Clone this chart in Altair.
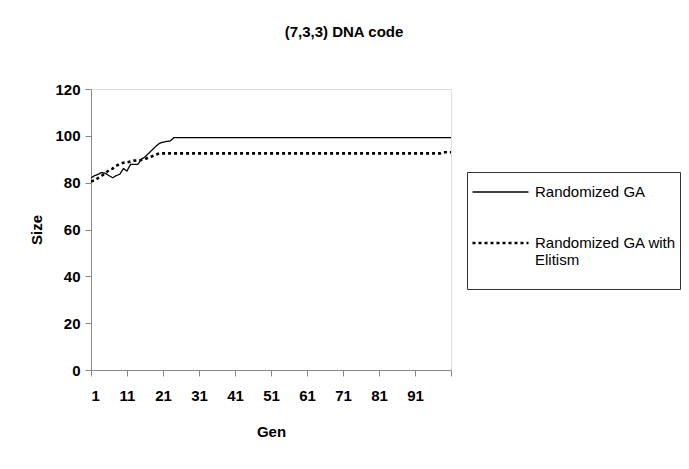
import altair as alt
import pandas as pd

gens = list(range(1, 102))

series_names = ["Randomized GA", "Randomized GA with Elitism"]

ga_values = [82.0, 83.0, 83.6, 84.4, 84.0, 83.0, 82.1, 83.0, 83.6, 86.0,
             85.0, 87.8, 87.8, 87.8, 90.0, 91.0, 92.5, 94.0, 95.5, 96.8,
             97.3, 97.6, 97.8, 99.2] + [99.2] * 77

elit_values = [80.5, 81.0, 82.0, 83.0, 84.0, 85.4, 86.0, 87.2, 88.0, 88.5,
               88.7, 89.0, 89.4, 89.5, 89.7, 90.0, 90.8, 91.3, 92.0, 92.5] + [92.5] * 78 + [93.0, 93.0, 93.0]

x_ticks = [1, 11, 21, 31, 41, 51, 61, 71, 81, 91, 101]
y_ticks = [0, 20, 40, 60, 80, 100, 120]

rows = []
for g, v in zip(gens, ga_values):
    rows.append({"Gen": g, "Size": v, "Series": series_names[0]})
for g, v in zip(gens, elit_values):
    rows.append({"Gen": g, "Size": v, "Series": series_names[1]})
df = pd.DataFrame(rows)

FONT = "Liberation Sans"

chart = alt.Chart(df).mark_line(color="black", clip=True).encode(
    x=alt.X("Gen:Q",
            scale=alt.Scale(domain=[1, 101], nice=False, zero=False),
            axis=alt.Axis(values=x_ticks, title="Gen", grid=False,
                          labelExpr="datum.value == 101 ? '' : datum.label",
                          tickSize=6, labelPadding=12, titlePadding=21,
                          labelFontSize=15, titleFontSize=15, labelFontWeight="bold")),
    y=alt.Y("Size:Q",
            scale=alt.Scale(domain=[0, 120], nice=False),
            axis=alt.Axis(values=y_ticks, title="Size", grid=False,
                          tickSize=6, labelPadding=5, titlePadding=10,
                          labelFontSize=15, titleFontSize=15, labelFontWeight="bold")),
    strokeDash=alt.StrokeDash("Series:N",
                              scale=alt.Scale(domain=series_names, range=[[1, 0], [3, 3]]),
                              legend=alt.Legend(
                                  title=None, orient="none", legendX=376, legendY=83,
                                  strokeColor="#333", fillColor="white", padding=4,
                                  symbolType="stroke", symbolSize=3136, symbolStrokeColor="black",
                                  symbolStrokeWidth=2, labelFontSize=15, labelFont=FONT,
                                  clipHeight=32, labelLimit=300, rowPadding=19, labelOffset=5,
                                  labelExpr="datum.label == 'Randomized GA with Elitism' ? ['Randomized GA with', 'Elitism', ''] : datum.label")),
    strokeWidth=alt.StrokeWidth("Series:N",
                                scale=alt.Scale(domain=series_names, range=[1.3, 2.6]),
                                legend=None),
).properties(
    width=360,
    height=281,
    title=alt.TitleParams("(7,3,3) DNA code", fontSize=15, font=FONT, fontWeight="bold",
                          anchor="middle", frame="group", offset=42, dx=73),
    autosize=alt.AutoSizeParams(type="none"),
    padding={"left": 91, "top": 89, "right": 238, "bottom": 99},
).configure_view(
    stroke=None
).configure_axis(
    labelFont=FONT, titleFont=FONT, labelColor="black", titleColor="black",
    domainColor="black", tickColor="black", titleFontWeight="bold"
).configure(background="white")

chart.save("out.html", embed_options={"renderer": "svg", "actions": False})
